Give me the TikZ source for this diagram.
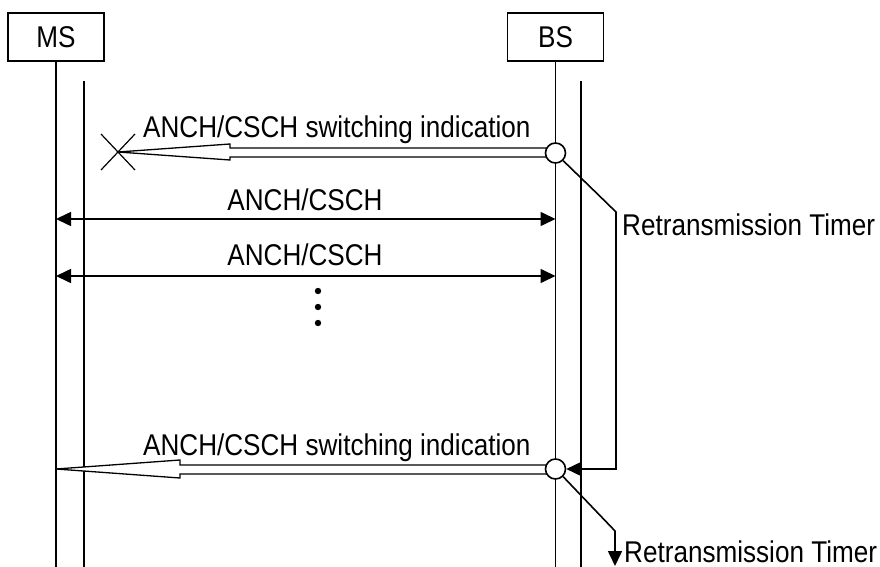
\documentclass[tikz,border=0pt]{standalone}
\usepackage{fontspec}
\setmainfont[FakeStretch=0.87]{Liberation Sans}
\usetikzlibrary{arrows.meta}
\begin{document}
\begin{tikzpicture}[x=1pt,y=-1pt,
  lw/.style={line width=1.6pt},
  actor/.style={draw,lw,minimum width=96pt,minimum height=48pt,inner sep=0pt,font=\fontsize{30}{36}\selectfont},
  lbl/.style={inner sep=0pt,font=\fontsize{30}{36}\selectfont},
  junction/.style={draw,lw,circle,fill=white,minimum size=20pt,inner sep=0pt},
  fat/.style={draw,line width=1.3pt,fill=white,line join=miter},
  tip/.style={-{Triangle[length=15pt,width=14pt]}},
  both/.style={{Triangle[length=15pt,width=14pt]}-{Triangle[length=15pt,width=14pt]}}
]
\useasboundingbox (0,0) rectangle (880,567);
% actors
\node[actor] (ms) at (56,37) {MS};
\node[actor] (bs) at (555.5,37) {BS};
\coordinate (msend) at (56,567);
\coordinate (bsend) at (555.5,567);
\coordinate (ms2top) at (84,81);
\coordinate (ms2end) at (84,567);
\coordinate (bs2top) at (581,81);
\coordinate (bs2end) at (581,567);
\draw[lw] (ms.south) -- (msend);
\draw[lw] (bs.south) -- (bsend);
\draw[lw] (ms2top) -- (ms2end);
\draw[lw] (bs2top) -- (bs2end);
% first switching indication (lost)
\coordinate (x1) at (118,152);
\draw[fat] (x1) -- (230,144) -- (230,148) -- (555,148) -- (555,157) -- (230,157) -- (230,160) -- cycle;
\draw[line width=1.2pt] (101,134) -- (135,170) (101,170) -- (135,134);
\node[junction] (c1) at (555.5,153) {};
\node[lbl,anchor=base west] (t1) at (143,138) {ANCH/CSCH switching indication};
% ANCH/CSCH exchanges
\coordinate (a1l) at (56,219);
\coordinate (a1r) at (555.5,219);
\coordinate (a2l) at (56,276);
\coordinate (a2r) at (555.5,276);
\draw[lw,both] (a1l) -- (a1r);
\draw[lw,both] (a2l) -- (a2r);
\node[lbl,anchor=base] (t2) at (305,210) {ANCH/CSCH};
\node[lbl,anchor=base] (t3) at (305,265) {ANCH/CSCH};
% dots
\fill (318,291) circle (3.2pt) (318,307) circle (3.2pt) (318,323) circle (3.2pt);
% second switching indication
\coordinate (x2) at (56,469);
\draw[fat] (x2) -- (180,460) -- (180,465) -- (555,465) -- (555,474) -- (180,474) -- (180,478) -- cycle;
\node[junction] (c2) at (555.5,469) {};
\node[lbl,anchor=base west] (t4) at (143,455) {ANCH/CSCH switching indication};
% retransmission timers
\coordinate (r1) at (616,212);
\draw[lw,tip] (c1.-45) -- (r1) |- (c2.east);
\node[lbl,anchor=base west] (t5) at (622,235) {Retransmission Timer};
\coordinate (r2) at (615,531);
\coordinate (r2e) at (615,566);
\draw[lw,tip] (c2.-45) -- (r2) -- (r2e);
\node[lbl,anchor=base west] (t6) at (624,562) {Retransmission Timer};
\end{tikzpicture}
\end{document}
